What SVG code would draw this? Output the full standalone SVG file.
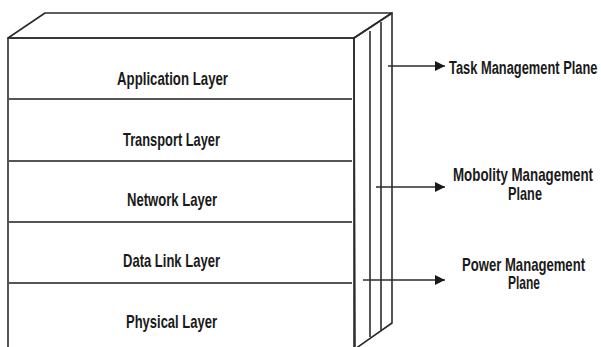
<svg xmlns="http://www.w3.org/2000/svg" width="601" height="347" viewBox="0 0 601 347">
<defs>
<style>
.edge{fill:none;stroke:#2b2b2b;stroke-width:1.6;stroke-linejoin:round}
.sep{stroke:#555;stroke-width:2}
.lbl{font-family:"Liberation Sans Narrow","Arial Narrow","Liberation Sans",Arial,sans-serif;font-size:18px;font-weight:bold;fill:#1a1a1a;text-anchor:start}
.conn{stroke:#2b2b2b;stroke-width:1.6;fill:none}
</style>
<marker id="ah" viewBox="0 0 10 10" refX="10" refY="5" markerWidth="10" markerHeight="10" markerUnits="userSpaceOnUse" orient="auto">
<path d="M0,0 L10,5 L0,10 Z" fill="#1a1a1a"/>
</marker>
</defs>
<rect width="601" height="347" fill="#fff"/>
<g id="stack">
<polygon class="edge" points="8,38 45,13 392,13 354,38"/>
<polygon class="edge" points="354,38 392,13 392,323 355,349"/>
<rect class="edge" x="8" y="38" width="346" height="312"/>
<line class="edge" x1="370" y1="31" x2="370" y2="337"/>
<line class="edge" x1="381" y1="22" x2="381" y2="330"/>
</g>
<g id="application-layer"><text class="lbl" transform="translate(117,85) scale(0.75,1)" textLength="148" lengthAdjust="spacingAndGlyphs">Application Layer</text><line class="sep" x1="8" y1="99" x2="352" y2="99"/></g>
<g id="transport-layer"><text class="lbl" transform="translate(123,146) scale(0.75,1)" textLength="129.3" lengthAdjust="spacingAndGlyphs">Transport Layer</text><line class="sep" x1="8" y1="161" x2="352" y2="161"/></g>
<g id="network-layer"><text class="lbl" transform="translate(127,206) scale(0.75,1)" textLength="120" lengthAdjust="spacingAndGlyphs">Network Layer</text><line class="sep" x1="8" y1="222" x2="352" y2="222"/></g>
<g id="data-link-layer"><text class="lbl" transform="translate(123,267) scale(0.75,1)" textLength="129.3" lengthAdjust="spacingAndGlyphs">Data Link Layer</text><line class="sep" x1="8" y1="283" x2="352" y2="283"/></g>
<g id="physical-layer"><text class="lbl" transform="translate(126,328) scale(0.75,1)" textLength="121.3" lengthAdjust="spacingAndGlyphs">Physical Layer</text></g>
<g id="task-plane"><text class="lbl" transform="translate(449,74) scale(0.66,1)" textLength="225" lengthAdjust="spacingAndGlyphs">Task Management Plane</text></g>
<g id="mobility-plane"><text class="lbl" transform="translate(453,181) scale(0.75,1)" textLength="186.7" lengthAdjust="spacingAndGlyphs">Mobolity Management</text><text class="lbl" transform="translate(508,200) scale(0.75,1)" textLength="45.3" lengthAdjust="spacingAndGlyphs">Plane</text></g>
<g id="power-plane"><text class="lbl" transform="translate(462,271) scale(0.75,1)" textLength="164" lengthAdjust="spacingAndGlyphs">Power Management</text><text class="lbl" transform="translate(508,289) scale(0.75,1)" textLength="42.7" lengthAdjust="spacingAndGlyphs">Plane</text></g>
<g id="connectors">
<line class="conn" x1="388" y1="66" x2="445" y2="66" marker-end="url(#ah)"/>
<line class="conn" x1="376" y1="187" x2="445" y2="187" marker-end="url(#ah)"/>
<line class="conn" x1="363" y1="280" x2="445" y2="280" marker-end="url(#ah)"/>
</g>
</svg>
